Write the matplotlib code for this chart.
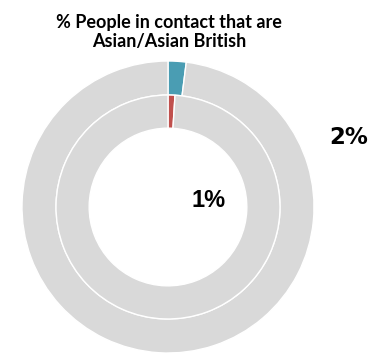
import matplotlib.pyplot as plt

outer_vals = [2, 98]
inner_vals = [1, 99]
outer_colors = ['#4a9db3', '#d9d9d9']
inner_colors = ['#c0504d', '#d9d9d9']
outer_label = '2%'
inner_label = '1%'
title = '% People in contact that are\nAsian/Asian British'

fig = plt.figure(figsize=(3.83, 3.53), dpi=100)
ax = fig.add_axes([22 / 383, 0, 292 / 383, 292 / 353])
ax.axis('off')

ax.pie(outer_vals, radius=1, colors=outer_colors, startangle=90, counterclock=False,
       wedgeprops=dict(width=0.233, edgecolor='white', linewidth=1))
ax.pie(inner_vals, radius=0.767, colors=inner_colors, startangle=90, counterclock=False,
       wedgeprops=dict(width=0.227, edgecolor='white', linewidth=1))
ax.set_xlim(-1, 1)
ax.set_ylim(-1, 1)

fig.text(169 / 383, 1 - 32 / 353, title, ha='center', va='center', fontsize=13,
         fontweight='bold', family='Lato', linespacing=1.15)
fig.text(348.5 / 383, 1 - 137.5 / 353, outer_label, ha='center', va='center', fontsize=16.5,
         fontweight='bold', family='DejaVu Sans')
fig.text(208.5 / 383, 1 - 200.5 / 353, inner_label, ha='center', va='center', fontsize=17,
         fontweight='bold', family='Liberation Sans')

fig.savefig('out.png', dpi=100)
